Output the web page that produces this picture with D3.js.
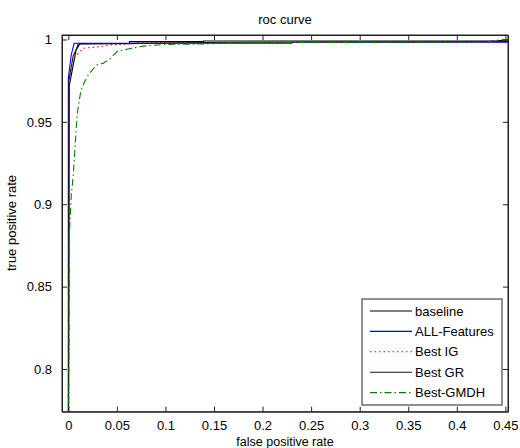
<!DOCTYPE html>
<html>
<head>
<meta charset="utf-8">
<script src="https://cdn.jsdelivr.net/npm/d3@7"></script>
<style>
  body { margin: 0; background: #fff; }
  text { font-family: "Liberation Sans", Arial, sans-serif; fill: #000; }
</style>
</head>
<body>
<svg id="chart" width="520" height="448"></svg>
<script>
// roc curves, values (fpr, tpr)
var xTicks = [0, 0.05, 0.1, 0.15, 0.2, 0.25, 0.3, 0.35, 0.4, 0.45];
var yTicks = [0.8, 0.85, 0.9, 0.95, 1];

var baseline = [[0, 0.70], [0.001, 0.972], [0.008, 0.9936], [0.012, 0.9975], [0.063, 0.9977],
                [0.063, 0.9987], [0.139, 0.9987], [0.139, 0.9991], [0.44, 0.9991], [0.4527, 0.9998]];
var allFeatures = [[0, 0.70], [0, 0.9766], [0.003, 0.9906], [0.006, 0.9977], [0.23, 0.9977],
                   [0.23, 0.9983], [0.4527, 0.9983]];
var bestIG = [[0, 0.70], [0.001, 0.975], [0.005, 0.9886], [0.0154, 0.9947], [0.03, 0.9955],
              [0.043, 0.9967], [0.06, 0.9973], [0.075, 0.998], [0.4527, 0.9985]];
var bestGR = [[0, 0.70], [0.0005, 0.975], [0.005, 0.99], [0.008, 0.9936], [0.010, 0.9973],
              [0.06, 0.9975], [0.145, 0.9982], [0.4527, 0.9988]];
var bestGMDH = [[0, 0.70], [0.001, 0.88], [0.003, 0.905], [0.005, 0.917], [0.007, 0.935],
                [0.008, 0.945], [0.0095, 0.956], [0.011, 0.962], [0.013, 0.969], [0.0165, 0.974],
                [0.0206, 0.9785], [0.029, 0.9845], [0.036, 0.9856], [0.043, 0.9882], [0.05, 0.9926],
                [0.056, 0.9936], [0.077, 0.996], [0.1, 0.997], [0.142, 0.9973], [0.16, 0.998],
                [0.43, 0.9985], [0.44, 0.9995], [0.4527, 1.0]];

var series = [
  { name: 'baseline',     data: baseline,    color: '#000000', dash: null },
  { name: 'ALL-Features', data: allFeatures, color: '#0000ff', dash: null },
  { name: 'Best IG',      data: bestIG,      color: '#ff0000', dash: '1.5,3' },
  { name: 'Best GR',      data: bestGR,      color: '#1a1a1a', dash: null },
  { name: 'Best-GMDH',    data: bestGMDH,    color: '#008000', dash: '7,3,1.5,3' }
];

// plot box in pixels (window.top is taken, so prefixed names)
var pLeft = 62, pRight = 508, pTop = 35, pBottom = 411.7;

var svg = d3.select('#chart'),
    x = d3.scaleLinear().domain([-0.0065, 0.4527]).range([pLeft, pRight]),
    y = d3.scaleLinear().domain([0.77408, 1.00273]).range([pBottom, pTop]);

svg.append('clipPath').attr('id', 'clip')
  .append('rect')
    .attr('x', pLeft).attr('y', pTop)
    .attr('width', pRight - pLeft).attr('height', pBottom - pTop);

// axes (ticks point inward like matlab)
var fmt = function (d) { return d3.format('~g')(d); };
svg.append('g')
    .attr('transform', 'translate(0,' + pBottom + ')')
    .call(d3.axisBottom(x).tickValues(xTicks).tickFormat(fmt).tickSizeInner(-5).tickSizeOuter(0).tickPadding(9));
svg.append('g')
    .attr('transform', 'translate(0,' + pTop + ')')
    .call(d3.axisTop(x).tickValues(xTicks).tickFormat('').tickSizeInner(-5).tickSizeOuter(0));
svg.append('g')
    .attr('transform', 'translate(' + pLeft + ',0)')
    .call(d3.axisLeft(y).tickValues(yTicks).tickFormat(fmt).tickSizeInner(-5).tickSizeOuter(0).tickPadding(10));
svg.append('g')
    .attr('transform', 'translate(' + pRight + ',0)')
    .call(d3.axisRight(y).tickValues(yTicks).tickFormat('').tickSizeInner(-5).tickSizeOuter(0));

svg.selectAll('.domain, .tick line').attr('stroke', '#222');
svg.selectAll('.tick text').style('font-size', '13px').attr('fill', '#000');

// curves
var line = d3.line()
    .x(function (d) { return x(d[0]); })
    .y(function (d) { return y(d[1]); });

svg.append('g').attr('clip-path', 'url(#clip)')
  .selectAll('path')
  .data(series)
  .enter().append('path')
    .attr('d', function (d) { return line(d.data); })
    .attr('fill', 'none')
    .attr('stroke', function (d) { return d.color; })
    .attr('stroke-width', 1.1)
    .attr('stroke-dasharray', function (d) { return d.dash; });

// box on top
svg.append('rect')
    .attr('x', pLeft).attr('y', pTop)
    .attr('width', pRight - pLeft).attr('height', pBottom - pTop)
    .attr('fill', 'none').attr('stroke', '#222');

// labels
svg.append('text').attr('x', 285).attr('y', 24)
    .attr('text-anchor', 'middle').style('font-size', '13px').text('roc curve');
svg.append('text').attr('x', 285).attr('y', 446)
    .attr('text-anchor', 'middle').style('font-size', '12.5px').text('false positive rate');
svg.append('text')
    .attr('transform', 'translate(16,223) rotate(-90)')
    .attr('text-anchor', 'middle').style('font-size', '13px').text('true positive rate');

// legend
var legend = svg.append('g');
legend.append('rect')
    .attr('x', 362).attr('y', 299)
    .attr('width', 140).attr('height', 106)
    .attr('fill', '#fff').attr('stroke', '#222');

var entry = legend.selectAll('.entry')
  .data(series)
  .enter().append('g')
    .attr('transform', function (d, i) { return 'translate(0,' + (311 + i * 20.4) + ')'; });
entry.append('line')
    .attr('x1', 370).attr('x2', 412)
    .attr('stroke', function (d) { return d.color; })
    .attr('stroke-width', 1.1)
    .attr('stroke-dasharray', function (d) { return d.dash; });
entry.append('text')
    .attr('x', 415).attr('y', 4.5)
    .style('font-size', '13px')
    .text(function (d) { return d.name; });
</script>
</body>
</html>
